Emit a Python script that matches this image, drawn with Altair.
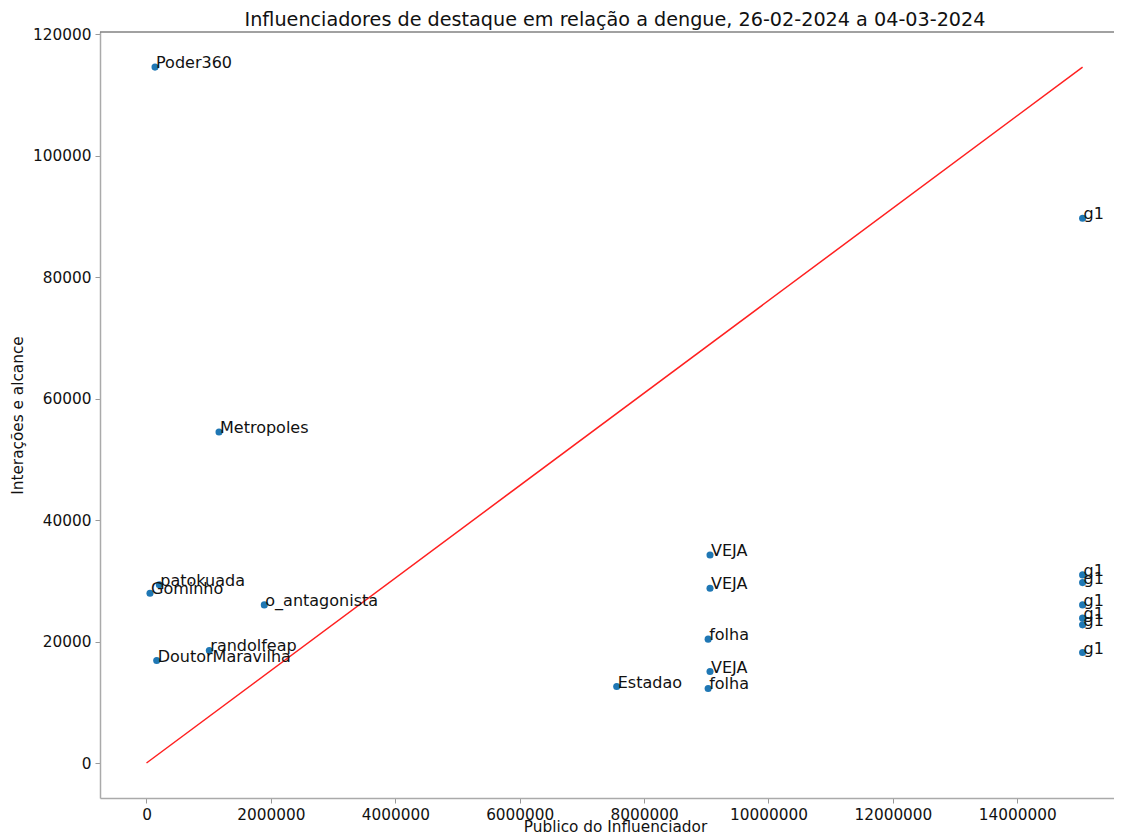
import altair as alt
import pandas as pd

names = ["Poder360", "g1", "Metropoles", "VEJA", "VEJA", "folha", "VEJA", "folha",
         "Estadao", "patokuada", "Gominho", "o_antagonista", "randolfeap",
         "DoutorMaravilha", "g1", "g1", "g1", "g1", "g1", "g1"]
followers = [137000, 15050000, 1166000, 9060000, 9060000, 9030000, 9060000, 9030000,
             7560000, 206000, 56000, 1894000, 1010000,
             164000, 15050000, 15050000, 15050000, 15050000, 15050000, 15050000]
interactions = [114600, 89700, 54510, 34270, 28790, 20400, 15070, 12280,
                12600, 29340, 27970, 26040, 18530,
                16880, 30980, 29710, 26040, 23860, 22750, 18200]

x_ticks = [0, 2000000, 4000000, 6000000, 8000000, 10000000, 12000000, 14000000]
y_ticks = [0, 20000, 40000, 60000, 80000, 100000, 120000]

title_text = "Influenciadores de destaque em relação a dengue, 26-02-2024 a 04-03-2024"

df = pd.DataFrame({"name": names, "followers": followers, "interactions": interactions})
line_df = pd.DataFrame({"followers": [0, max(followers)],
                        "interactions": [0, max(interactions)]})

W, H = 1014, 766
FONT = "DejaVu Sans"
TXT = "#111111"

xscale = alt.Scale(domain=[-747600, 15555000], nice=False, zero=False)
yscale = alt.Scale(domain=[-5760, 120380], nice=False, zero=False)

xaxis = alt.Axis(values=x_ticks, format="d", grid=False, title="Publico do Influenciador",
                 domainColor="#aaaaaa", domainWidth=1.5, tickColor="#999999", tickSize=5,
                 labelPadding=4, labelFont=FONT, labelFontSize=15.3, labelColor=TXT,
                 titleFont=FONT, titleFontSize=15.3, titleFontWeight="normal",
                 titleColor=TXT, titlePadding=-3, titleX=515, labelFlush=False)
yaxis = alt.Axis(values=y_ticks, format="d", grid=False, title="Interações e alcance",
                 domainColor="#aaaaaa", domainWidth=1.5, tickColor="#999999", tickSize=5,
                 labelPadding=4, labelFont=FONT, labelFontSize=15.3, labelColor=TXT,
                 titleFont=FONT, titleFontSize=15.3, titleFontWeight="normal",
                 titleColor=TXT, titlePadding=10, titleBaseline="alphabetic", labelFlush=False)

line = alt.Chart(line_df).mark_line(color="#ff2020", strokeWidth=1.5).encode(
    x=alt.X("followers:Q", scale=xscale, axis=xaxis),
    y=alt.Y("interactions:Q", scale=yscale, axis=yaxis),
)

points = alt.Chart(df).mark_circle(color="#1f77b4", size=50, opacity=1).encode(
    x=alt.X("followers:Q", scale=xscale),
    y=alt.Y("interactions:Q", scale=yscale),
)

labels = alt.Chart(df).mark_text(align="left", baseline="alphabetic", dx=1, dy=1,
                                 font=FONT, fontSize=16, color=TXT).encode(
    x=alt.X("followers:Q", scale=xscale),
    y=alt.Y("interactions:Q", scale=yscale),
    text="name:N",
)

top_spine = alt.Chart(pd.DataFrame({"a": [0]})).mark_rule(color="#444444", strokeWidth=1.2).encode(
    x=alt.value(0), x2=alt.value(W), y=alt.value(0)
)

title = alt.Chart(pd.DataFrame({"t": [title_text]})).mark_text(
    align="center", baseline="alphabetic", font=FONT, fontSize=19.2, color=TXT
).encode(x=alt.value(515), y=alt.value(-6), text="t:N")

chart = alt.layer(line, points, labels, top_spine, title).properties(
    width=W, height=H,
    autosize=alt.AutoSizeParams(type="none"),
    padding={"left": 92, "top": 24, "right": 0, "bottom": 34},
).configure_view(stroke=None)

chart.save("out.html", embed_options={"renderer": "svg", "actions": False})
